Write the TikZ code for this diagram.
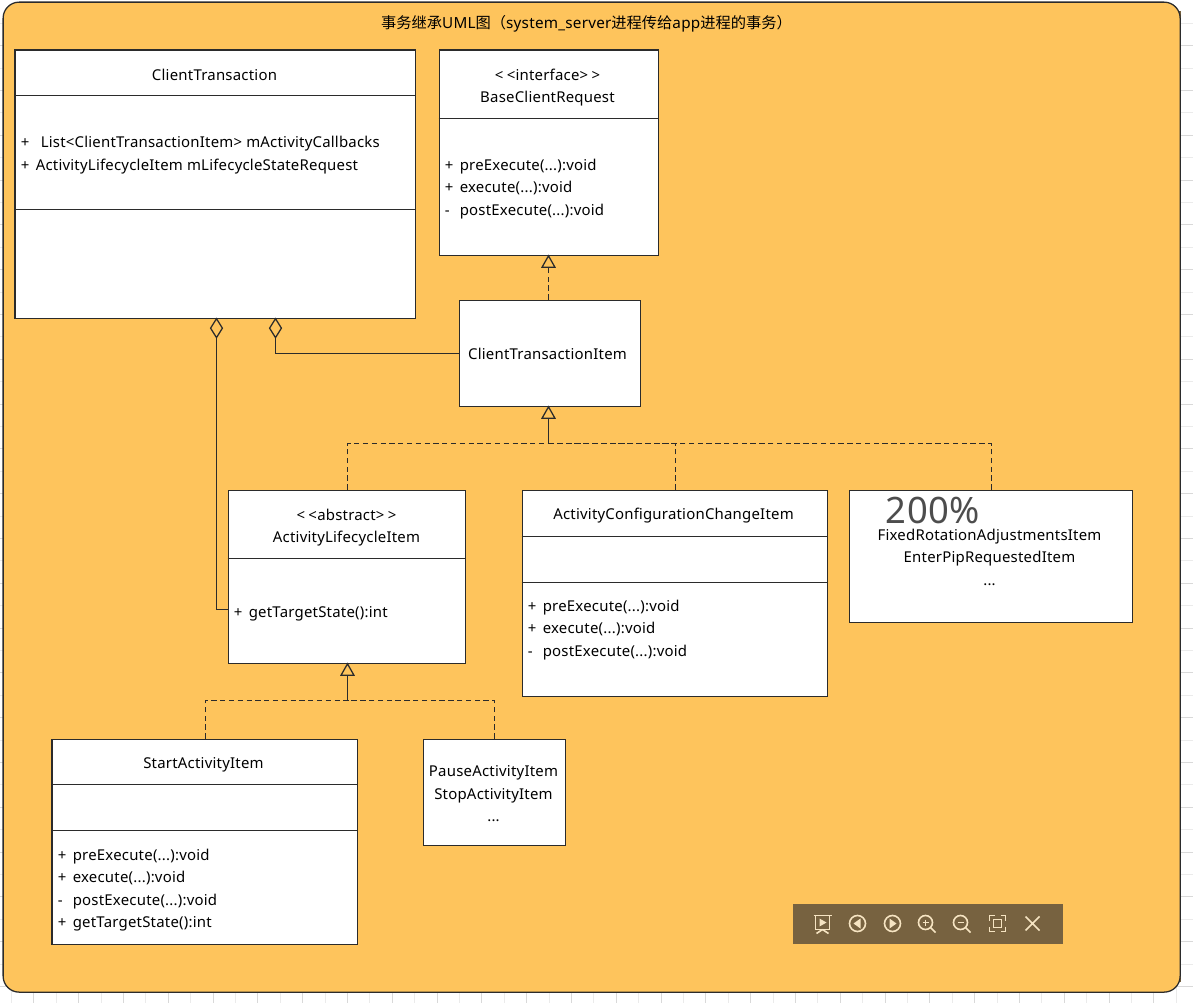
\documentclass[tikz,border=0pt]{standalone}
\usepackage{fontspec}
\setmainfont[LetterSpace=1.5]{Noto Sans}
\newfontfamily\cjk{Noto Sans CJK SC}
\usetikzlibrary{arrows.meta}
\definecolor{FrameOrange}{HTML}{FEC45C}
\definecolor{FrameEdge}{HTML}{2B2B2B}
\definecolor{ToolBrown}{HTML}{776240}
\definecolor{ToolCream}{HTML}{F6E4C2}
\definecolor{GridDark}{HTML}{D9D9D9}
\definecolor{GridLight}{HTML}{EBEBEB}
\definecolor{ZoomGray}{HTML}{4D4D4D}
\newcommand{\mbr}[1]{\makebox[11.25pt][l]{#1}}
\tikzset{
   classbox/.style 2 args={draw=FrameEdge,fill=white,line width=.95pt,anchor=north west,inner sep=0pt,
     minimum width=#1*.75pt,minimum height=#2*.75pt},
   classtext/.style={inner sep=0pt,align=center,font=\fontsize{11.2}{16.9}\selectfont,text=black},
   membertext/.style={classtext,anchor=west,align=left},
   solidline/.style={draw=FrameEdge,line width=.95pt},
   inherit/.style={solidline,{Triangle[open,length=10pt,width=11pt]}-},
   aggregate/.style={solidline,{Diamond[open,length=16pt,width=10pt]}-},
   realize/.style={solidline,dash pattern=on 4pt off 2.6pt},
   toolicon/.style={draw=ToolCream,line width=1.2pt},
}
\begin{document}
\begin{tikzpicture}[x=.75pt,y=-.75pt]
   \useasboundingbox (.5,.5) rectangle (1193.5,1003.5);
   \foreach \gx [count=\gi] in {12,34.4,...,1190} {
    \pgfmathsetmacro{\gridcol}{isodd(\gi)?"GridLight":"GridDark"}
    \draw[\gridcol,line width=.7pt] (\gx,985) -- (\gx,1004);
   }
   \foreach \gy [count=\gi] in {23.7,46.1,...,1000} {
    \pgfmathsetmacro{\gridcol}{isodd(\gi)?"GridLight":"GridDark"}
    \draw[\gridcol,line width=.7pt] (0,\gy) -- (1194,\gy);
   }

   \fill[ToolBrown] (1176,12) rectangle (1181,982);
   \node[classbox={1177}{990},fill=FrameOrange,rounded corners=12pt] (frame) at (3,2) {};
   \node[classtext,font=\fontsize{11.45}{16.9}\selectfont] (title) at (587,24) {{\cjk 事务继承}UML{\cjk 图（}system\_server{\cjk 进程传给}app{\cjk 进程的事务）}};

   \node[classbox={400}{268}] (ct) at (15,50) {};
   \node[classbox={219}{205}] (bcr) at (439,50) {};
   \node[classbox={181}{106}] (cti) at (459,300) {};
   \node[classbox={237}{173}] (ali) at (228,490) {};
   \node[classbox={305}{206}] (acci) at (522,490) {};
   \node[classbox={283}{132}] (other) at (849,490) {};
   \node[classbox={305}{205}] (start) at (52,739) {};
   \node[classbox={142}{106}] (pause) at (423,739) {};

   \foreach \boxname/\sepy in {ct/96,ct/210,bcr/119,ali/559,acci/537,acci/583,start/785,start/831} {
    \draw[solidline] (\boxname.west |- 0,\sepy) -- (\boxname.east |- 0,\sepy);
   }

   \node[classtext] (ctname) at (215,75.5) {ClientTransaction};
   \node[membertext] (ctfields) at (21,155.5) {\mbr{+}\hspace{3.75pt}List<ClientTransactionItem> mActivityCallbacks\\\mbr{+}ActivityLifecycleItem mLifecycleStateRequest};
   \node[classtext] (bcrname) at (548,88) {<\kern2.5pt<interface>\kern2.5pt>\\BaseClientRequest};
   \node[membertext] (bcrmethods) at (445,189.5) {\mbr{+}preExecute(...):void\\\mbr{+}execute(...):void\\\mbr{-}postExecute(...):void};
   \node[classtext] (ctiname) at (548,354.5) {ClientTransactionItem};
   \node[classtext] (aliname) at (347,528) {<\kern2.5pt<abstract>\kern2.5pt>\\ActivityLifecycleItem};
   \node[membertext] (alimethods) at (234,614) {\mbr{+}getTargetState():int};
   \node[classtext] (acciname) at (674,516) {ActivityConfigurationChangeItem};
   \node[membertext] (accimethods) at (528,630.5) {\mbr{+}preExecute(...):void\\\mbr{+}execute(...):void\\\mbr{-}postExecute(...):void};
   \node[classtext] (othernames) at (990,557.5) {FixedRotationAdjustmentsItem\\EnterPipRequestedItem\\...};
   \node[classtext] (startname) at (204,765) {StartActivityItem};
   \node[membertext] (startmethods) at (58,890.5) {\mbr{+}preExecute(...):void\\\mbr{+}execute(...):void\\\mbr{-}postExecute(...):void\\\mbr{+}getTargetState():int};
   \node[classtext] (pausenames) at (494,794.5) {PauseActivityItem\\StopActivityItem\\...};
   \node[inner sep=0pt,text=ZoomGray,font=\fontsize{27.3}{27.3}\selectfont] (zoomlabel) at (933.5,510.5) {200\%};

   \coordinate (ctleft) at (217,318);
   \coordinate (ctright) at (276,318);
   \coordinate (aliport) at (228,610);
   \coordinate (cticut) at (549,444);
   \coordinate (alicut) at (348,701);
   \coordinate (bcrtip) at (549,255);
   \coordinate (ctitop) at (549,300);
   \coordinate (ctibase) at (549,406);
   \coordinate (alibase) at (348,663);

   \draw[aggregate] (ctleft) |- (aliport);
   \draw[aggregate] (ctright) |- (cti.west);
   \draw[realize] (ctitop) -- (549,268);
   \draw[inherit] (bcrtip) -- (549,268);
   \draw[inherit] (ctibase) -- (cticut);
   \draw[inherit] (alibase) -- (alicut);
   \foreach \child in {ali,acci,other} {
    \draw[realize] ([xshift=.5pt]\child.north) |- (cticut);
   }
   \foreach \child in {start,pause} {
    \draw[realize] ([xshift=.5pt]\child.north) |- (alicut);
   }

   \node[classbox={270}{40},draw=none,fill=ToolBrown] (toolbar) at (793,904) {};
   \draw[toolicon] (814,916) -- (832,916) (816,916) -- (816,930) -- (830,930) -- (830,916);
   \draw[toolicon] (823,930) -- (817,934) (823,930) -- (829,934);
   \fill[ToolCream] (820,919) -- (827,923) -- (820,927) -- cycle;
   \draw[toolicon] (858,924) circle[radius=8];
   \fill[ToolCream] (854,924) -- (861,919) -- (861,929) -- cycle;
   \draw[toolicon] (893,924) circle[radius=8];
   \fill[ToolCream] (897,924) -- (890,919) -- (890,929) -- cycle;
   \foreach \lensx in {927,962} {
    \draw[toolicon] (\lensx-1,923) circle[radius=7];
    \draw[toolicon] (\lensx+4,928) -- (\lensx+9,933);
    \draw[toolicon] (\lensx-4,923) -- (\lensx+2,923);
   }
   \draw[toolicon] (926,920) -- (926,926);
   \draw[toolicon] (990,921) -- (990,916) -- (995,916) (1001,916) -- (1006,916) -- (1006,921)
     (1006,927) -- (1006,932) -- (1001,932) (995,932) -- (990,932) -- (990,927);
   \draw[toolicon] (994,920) rectangle (1002,928);
   \draw[toolicon] (1026,917) -- (1040,931) (1040,917) -- (1026,931);
\end{tikzpicture}
\end{document}
